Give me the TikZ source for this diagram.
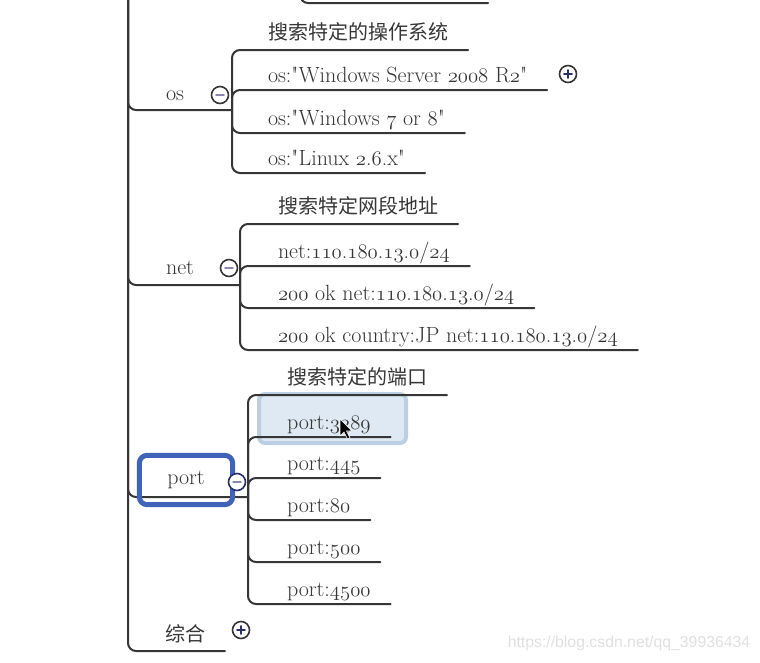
\documentclass[tikz,border=0pt]{standalone}
\usepackage{fontspec}
\newfontfamily\cjk{Noto Sans CJK SC}
\newfontfamily\wmfont{Liberation Sans}
\usepackage{xcolor}
\definecolor{inkgray}{HTML}{363636}
\definecolor{selblue}{HTML}{3F63B8}
\definecolor{hlfill}{HTML}{DEE9F3}
\definecolor{hledge}{HTML}{BBCFE2}
\definecolor{btnnavy}{HTML}{27306A}
\definecolor{barlilac}{HTML}{8A88B0}
\definecolor{wmgray}{HTML}{E0E0E0}
\newcommand\osf[1]{{\usefont{OML}{lmm}{m}{it}#1}}
\newcommand\mapfont{\fontsize{22}{25}\selectfont}
\newcommand\cjktext{\cjk\fontsize{20}{24}\selectfont}
\newcommand\q{\textquotedbl}

\begin{document}
\begin{tikzpicture}[x=1pt, y=-1pt, line join=round, line cap=round,
  branch/.style={draw=inkgray, line width=2pt, rounded corners=8pt},
  leaf/.style={anchor=south west, inner xsep=20pt, inner ysep=8pt, outer sep=0pt, text depth=0pt, text=inkgray, font=\mapfont},
  title/.style={leaf, inner ysep=11pt},
  topic/.style={anchor=base, inner sep=0pt, text=inkgray, font=\mapfont},
  fold/.style={circle, draw=inkgray, fill=white, line width=1.6pt, minimum size=17pt, inner sep=0pt},
  foldminus/.style={fold, path picture={\draw[line width=1.4pt, barlilac] ([xshift=-4pt]path picture bounding box.center) -- ([xshift=4pt]path picture bounding box.center);}},
  foldplus/.style={fold, path picture={\draw[line width=1.6pt, btnnavy] ([xshift=-4pt]path picture bounding box.center) -- ([xshift=4pt]path picture bounding box.center) ([yshift=-4pt]path picture bounding box.center) -- ([yshift=4pt]path picture bounding box.center);}}]
  \useasboundingbox (0,0) rectangle (760,662);

  % ========================================================
  % 0. TRUNK AND JUNCTION COORDINATES
  % ========================================================
  \coordinate (root) at (128,-10);
  \coordinate (prevj) at (300,-10);
  \coordinate (prevend) at (488,3);
  \coordinate (osj) at (232,110);
  \coordinate (netj) at (240,285);
  \coordinate (portj) at (248,497);

  % selected leaf highlight (port:3389)
  \draw[line width=4pt, draw=hledge, fill=hlfill, rounded corners=6pt] (259,394) rectangle (406,443);

  % ========================================================
  % 1. TOPICS
  % ========================================================
  \node[topic] (os) at (175,100) {os};
  \node[topic] (net) at (180,274) {net};
  \node[topic, anchor=center, minimum width=93pt, minimum height=49pt] (port) at (186,480) {port};
  \node[title, inner ysep=10pt] (zh) at (145,651) {\cjktext 综合};

  % ========================================================
  % 2. LEAVES
  % ========================================================
  % os
  \node[title] (os0) at (248,50) {\cjktext 搜索特定的操作系统};
  \node[leaf] (os1) at (248,90) {os:\q Windows Server \osf{2008} R\osf{2}\q};
  \node[leaf] (os2) at (248,133) {os:\q Windows \osf{7} or \osf{8}\q};
  \node[leaf] (os3) at (248,173) {os:\q Linux \osf{2}.\osf{6}.x\q};

  % net
  \node[title] (net0) at (258,224) {\cjktext 搜索特定网段地址};
  \node[leaf] (net1) at (258,266) {net:\osf{110}.\osf{180}.\osf{13}.\osf{0}/\osf{24}};
  \node[leaf] (net2) at (258,308) {\osf{200} ok net:\osf{110}.\osf{180}.\osf{13}.\osf{0}/\osf{24}};
  \node[leaf] (net3) at (258,350) {\osf{200} ok country:JP net:\osf{110}.\osf{180}.\osf{13}.\osf{0}/\osf{24}};

  % port
  \node[title] (port0) at (267,395) {\cjktext 搜索特定的端口};
  \node[leaf] (port1) at (267,437) {port:\osf{3389}};
  \node[leaf] (port2) at (267,478) {port:\osf{445}};
  \node[leaf] (port3) at (267,520) {port:\osf{80}};
  \node[leaf] (port4) at (267,562) {port:\osf{500}};
  \node[leaf] (port5) at (267,604) {port:\osf{4500}};

  % ========================================================
  % 3. BRANCHES
  % ========================================================
  \draw[branch] (prevj) |- (prevend);
  \foreach \j in {osj,netj,portj}
    \draw[branch] (root) |- (\j);
  \draw[branch] (root) |- (zh.south east);
  \foreach \k in {0,...,3}
    \draw[branch] (osj) |- (os\k.south east);
  \foreach \k in {0,...,3}
    \draw[branch] (netj) |- (net\k.south east);
  \foreach \k in {0,...,5}
    \draw[branch] (portj) |- (port\k.south east);

  % selection frame on the port topic
  \draw[selblue, line width=5pt, rounded corners=8pt] (port.south west) rectangle (port.north east);

  % ========================================================
  % 4. FOLD BUTTONS
  % ========================================================
  \node[foldminus] (osbtn) at (220,95) {};
  \node[foldminus] (netbtn) at (229,268) {};
  \node[foldminus, draw=btnnavy] (portbtn) at (237,482) {};
  \node[foldplus] (zhbtn) at (241,630) {};
  \node[foldplus] (os1btn) at (568,74) {};

  % mouse pointer
  \fill[black, draw=white, line width=0.6pt] (340,419) -- ++(0,17) -- ++(4,-4) -- ++(3.5,7) -- ++(2.5,-1.2) -- ++(-3.5,-6.8) -- ++(5.5,0) -- cycle;

  % watermark
  \node[font=\wmfont\fontsize{15.8}{18}\selectfont, text=wmgray] (wm) at (629,643) {https://blog.csdn.net/qq\_39936434};
\end{tikzpicture}
\end{document}
